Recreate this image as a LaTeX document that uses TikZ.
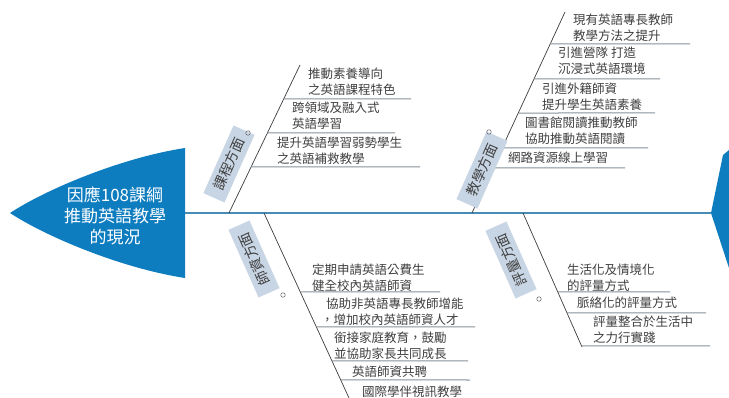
\documentclass[tikz,border=0pt]{standalone}
\usepackage{fontspec}
\newfontfamily\cjk{Noto Sans CJK TC}
\usetikzlibrary{calc}
\definecolor{headblue}{RGB}{14,125,192}
\definecolor{spinecol}{RGB}{70,140,180}
\definecolor{bonecol}{RGB}{60,60,60}
\definecolor{ulcol}{RGB}{135,145,155}
\definecolor{labfill}{RGB}{200,213,228}
\definecolor{txtgray}{RGB}{64,64,64}
\tikzset{
  txt/.style={anchor=west, align=left, inner sep=0pt, text=txtgray, font=\cjk\fontsize{12.5}{16}\selectfont},
  headtxt/.style={align=center, inner sep=0pt, text=white, font=\cjk\fontsize{17}{21}\selectfont},
  lab/.style={fill=labfill, inner sep=0pt, text=txtgray, minimum width=74pt, minimum height=23pt, font=\cjk\fontsize{14}{14}\selectfont},
  bone/.style={draw=bonecol, line width=0.7pt},
  uline/.style={draw=ulcol, line width=1pt},
  spine/.style={draw=spinecol, line width=1.1pt},
  dotmark/.style={draw=txtgray!80, line width=0.5pt, circle, inner sep=0pt, minimum size=4.5pt}
}
\begin{document}
\begin{tikzpicture}[x=1pt,y=-1pt]
\useasboundingbox (0,0) rectangle (729,398);
\fill[white] (0,0) rectangle (729,398);

% head
\fill[headblue] (185,148) .. controls (120,158) and (45,190) .. (10,213)
  .. controls (45,236) and (120,268) .. (185,278) -- cycle;
\node[headtxt] (head) at (115,216) {因應108課綱\\推動英語教學\\的現況};
% tail
\fill[headblue] (711,213) -- (723,155) -- (729,150) -- (729,268) -- cycle;
\coordinate (spineL) at (185,213);
\coordinate (spineR) at (711,213);
\draw[spine] (spineL) -- (spineR);

% bones
\coordinate (b1a) at (229,213); \coordinate (b1b) at (300,65);
\coordinate (b2a) at (472,213); \coordinate (b2b) at (565,12);
\coordinate (b3a) at (264,213); \coordinate (b3b) at (349,398);
\coordinate (b4a) at (523,213); \coordinate (b4b) at (582,347);
\draw[bone] (b1a) -- (b1b);
\draw[bone] (b2a) -- (b2b);
\draw[bone] (b3a) -- (b3b);
\draw[bone] (b4a) -- (b4b);

% underlines bone 1
\foreach \yy/\xe in {99/411,133/395,167/420}
  \draw[uline] ($(b1a)!{(213-\yy)/148}!(b1b)$) -- (\xe,\yy);
% underlines bone 2
\foreach \yy/\xe in {44/690,79/660,113/655,148/648,168/625}
  \draw[uline] ($(b2a)!{(213-\yy)/201}!(b2b)$) -- (\xe,\yy);
% underlines bone 3
\foreach \yy/\xe in {292/440,327/475,361/468,380/470}
  \draw[uline] ($(b3a)!{(\yy-213)/185}!(b3b)$) -- (\xe,\yy);
% underlines bone 4
\foreach \yy/\xe in {292/670,313/706,346/710}
  \draw[uline] ($(b4a)!{(\yy-213)/134}!(b4b)$) -- (\xe,\yy);

% labels
\node[lab, rotate=66] (l1) at (229,164) {課程方面};
\node[lab, rotate=66] (l2) at (482,170) {教學方面};
\node[lab, rotate=114] (l3) at (254,259) {師資方面};
\node[lab, rotate=114] (l4) at (511,260) {評量方面};
\node[dotmark] (d1) at (248,133) {};
\node[dotmark] (d2) at (489,132) {};
\node[dotmark] (d3) at (283,295) {};
\node[dotmark] (d4) at (539,299) {};

% texts bone 1
\node[txt] (t11) at (308,82) {推動素養導向\\之英語課程特色};
\node[txt] (t12) at (292,116) {跨領域及融入式\\英語學習};
\node[txt] (t13) at (277,151) {提升英語學習弱勢學生\\之英語補救教學};
% texts bone 2
\node[txt] (t21) at (573,28) {現有英語專長教師\\教學方法之提升};
\node[txt] (t22) at (558,61) {引進營隊 打造\\沉浸式英語環境};
\node[txt] (t23) at (542,97) {引進外籍師資\\提升學生英語素養};
\node[txt] (t24) at (525,131) {圖書館閱讀推動教師\\協助推動英語閱讀};
\node[txt] (t25) at (508,158) {網路資源線上學習};
% texts bone 3
\node[txt] (t31) at (312,278) {定期申請英語公費生\\健全校內英語師資};
\node[txt] (t32) at (326,312) {協助非英語專長教師增能\\\hspace*{-5pt}，增加校內英語師資人才};
\node[txt] (t33) at (334,346) {銜接家庭教育，鼓勵\\並協助家長共同成長};
\node[txt] (t34) at (352,372) {英語師資共聘};
\node[txt] (t35) at (362,392) {國際學伴視訊教學};
% texts bone 4
\node[txt] (t41) at (567,278) {生活化及情境化\\的評量方式};
\node[txt] (t42) at (577,303) {脈絡化的評量方式};
\node[txt] (t43) at (593,330) {評量整合於生活中\\之力行實踐};
\end{tikzpicture}
\end{document}
